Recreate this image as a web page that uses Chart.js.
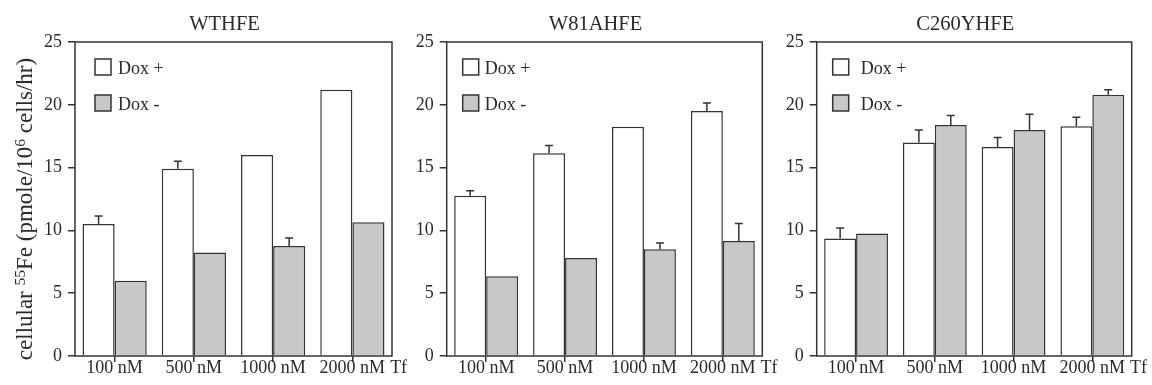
<!DOCTYPE html>
<html>
<head>
<meta charset="utf-8">
<script src="https://cdn.jsdelivr.net/npm/chart.js@4.4.1/dist/chart.umd.min.js"></script>
<style>
  html, body { margin: 0; padding: 0; background: #fff; }
  #wrap { position: relative; width: 1152px; height: 385px; }
  .c { position: absolute; top: 0; height: 385px; }
</style>
</head>
<body>
<div id="wrap">
  <div class="c" style="left:0;width:412px"><canvas id="p1"></canvas></div>
  <div class="c" style="left:400px;width:382px"><canvas id="p2"></canvas></div>
  <div class="c" style="left:770px;width:382px"><canvas id="p3"></canvas></div>
</div>
<script>
// --- data (cellular 55Fe uptake) ---
const CATS = ['100 nM', '500 nM', '1000 nM', '2000 nM'];
const Y_TICKS = [0, 5, 10, 15, 20, 25];

const WT_PLUS       = [10.5, 14.9, 16.0, 21.2];
const WT_MINUS      = [6.0, 8.25, 8.75, 10.65];
const WT_PLUS_ERR   = [0.65, 0.6, 0, 0];
const WT_MINUS_ERR  = [0, 0, 0.65, 0];

const W81_PLUS      = [12.75, 16.15, 18.25, 19.5];
const W81_MINUS     = [6.35, 7.8, 8.5, 9.15];
const W81_PLUS_ERR  = [0.4, 0.6, 0, 0.65];
const W81_MINUS_ERR = [0, 0, 0.5, 1.4];

const C260_PLUS      = [9.35, 17.0, 16.65, 18.3];
const C260_MINUS     = [9.75, 18.4, 18.0, 20.8];
const C260_PLUS_ERR  = [0.85, 1.0, 0.75, 0.7];
const C260_MINUS_ERR = [0, 0.75, 1.25, 0.4];

const SERIF = '"Liberation Serif", "Times New Roman", serif';
const LINE = '#333333', GRAY = '#c8c8c8', TXT = '#2a2a2a';

// frame, legend, error bars, titles
const decor = {
  id: 'decor',
  afterDatasetsDraw(chart, args, o) {
    const { ctx, chartArea: a, scales: { x, y } } = chart;
    ctx.save();
    ctx.strokeStyle = LINE; ctx.lineWidth = 1.5;

    // error bars (upper half only)
    chart.data.datasets.forEach((ds, i) => {
      chart.getDatasetMeta(i).data.forEach((bar, j) => {
        const e = ds.err[j]; if (!e) return;
        const y0 = y.getPixelForValue(ds.data[j]);
        const y1 = y.getPixelForValue(ds.data[j] + e);
        ctx.beginPath();
        ctx.moveTo(bar.x, y0); ctx.lineTo(bar.x, y1);
        ctx.moveTo(bar.x - 4, y1); ctx.lineTo(bar.x + 4, y1);
        ctx.stroke();
      });
    });

    // box
    ctx.strokeRect(a.left, a.top, a.width, a.height);

    // legend
    ctx.font = '18px ' + SERIF; ctx.fillStyle = TXT; ctx.textBaseline = 'alphabetic';
    chart.data.datasets.forEach((ds, i) => {
      const lx = a.left + o.legX, ly = a.top + 17 + i * 36;
      ctx.fillStyle = ds.backgroundColor; ctx.fillRect(lx, ly, 16, 16);
      ctx.strokeRect(lx, ly, 16, 16);
      ctx.fillStyle = TXT; ctx.textAlign = 'left';
      ctx.fillText(ds.label, lx + 16 + o.legGap, ly + 14.5);
    });

    // "Tf" after last category label
    const lastX = x.getPixelForTick(CATS.length - 1);
    ctx.fillText('Tf', lastX + ctx.measureText(CATS[CATS.length - 1]).width / 2 + 5, a.bottom + 16.5);

    // panel title
    ctx.font = '20.5px ' + SERIF; ctx.textAlign = 'center';
    ctx.fillText(o.title, (a.left + a.right) / 2 - 9, 29.5);

    // y axis title with superscripts
    if (o.yTitle) {
      const parts = [['cellular ', 0], ['55', 1], ['Fe (pmole/10', 0], ['6', 1], [' cells/hr)', 0]];
      const big = '23px ' + SERIF, small = '15.5px ' + SERIF;
      let total = 0;
      parts.forEach(p => { ctx.font = p[1] ? small : big; total += ctx.measureText(p[0]).width; });
      ctx.translate(25, (a.top + a.bottom) / 2 + 10);
      ctx.rotate(-Math.PI / 2);
      ctx.textAlign = 'left';
      let cx = -total / 2;
      parts.forEach(p => {
        ctx.font = p[1] ? small : big;
        ctx.fillText(p[0], cx, p[1] ? 0 : 7);
        cx += ctx.measureText(p[0]).width;
      });
    }
    ctx.restore();
  }
};

function panel(id, title, plus, minus, plusErr, minusErr, yw, padR, legX, legGap, yTitle) {
  return new Chart(document.getElementById(id), {
    type: 'bar',
    data: { labels: CATS, datasets: [
      { label: 'Dox +', data: plus, err: plusErr, backgroundColor: '#ffffff', borderColor: LINE, borderWidth: 1.5 },
      { label: 'Dox -', data: minus, err: minusErr, backgroundColor: GRAY, borderColor: LINE, borderWidth: 1.5 },
    ]},
    options: {
      responsive: true, maintainAspectRatio: false, animation: false,
      layout: { padding: { top: 42, right: padR, left: 0, bottom: 0 } },
      datasets: { bar: { barPercentage: 1, categoryPercentage: 0.81 } },
      plugins: { legend: { display: false }, tooltip: { enabled: false },
        decor: { title, yTitle, legX, legGap } },
      scales: {
        x: { grid: { display: true, drawOnChartArea: false, offset: false, tickLength: 6, color: LINE, lineWidth: 1.5 },
             border: { display: false },
             ticks: { color: TXT, font: { family: SERIF, size: 18 }, padding: -5, maxRotation: 0, autoSkip: false },
             afterFit: s => { s.height = 29; } },
        y: { min: 0, max: 25,
             afterBuildTicks: s => { s.ticks = Y_TICKS.map(v => ({ value: v })); },
             grid: { display: true, drawOnChartArea: false, tickLength: 7, color: LINE, lineWidth: 1.5 },
             border: { display: false },
             ticks: { color: TXT, font: { family: SERIF, size: 18 }, padding: 6 },
             afterFit: s => { s.width = yw; } }
      }
    },
    plugins: [decor]
  });
}

panel('p1', 'WTHFE', WT_PLUS, WT_MINUS, WT_PLUS_ERR, WT_MINUS_ERR, 75, 20, 20, 7, true);
panel('p2', 'W81AHFE', W81_PLUS, W81_MINUS, W81_PLUS_ERR, W81_MINUS_ERR, 46.7, 19.7, 16, 6, false);
panel('p3', 'C260YHFE', C260_PLUS, C260_MINUS, C260_PLUS_ERR, C260_MINUS_ERR, 46.7, 20.3, 16, 12, false);
</script>
</body>
</html>
